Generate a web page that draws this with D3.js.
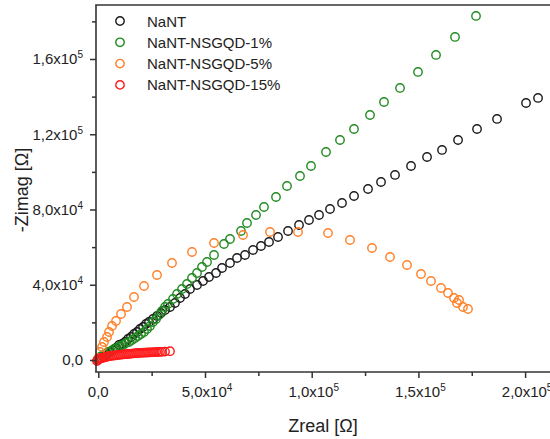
<!DOCTYPE html>
<html>
<head>
<meta charset="utf-8">
<script src="https://cdn.jsdelivr.net/npm/d3@7"></script>
<style>
  body { margin: 0; background: #fff; }
  svg { display: block; font-family: "Liberation Sans", Arial, sans-serif; }
</style>
</head>
<body>
<div id="chart"></div>
<script>
// series names, in legend order
const seriesNames = ['NaNT', 'NaNT-NSGQD-1%', 'NaNT-NSGQD-5%', 'NaNT-NSGQD-15%'];
const seriesColors = ['#1a1a1a', '#1f8a1f', '#ff7f27', '#ff1a1a'];

// NaNT  (Zreal, -Zimag) in ohm
const nantZre = [330, 1270, 2670, 4080, 5480, 6890, 8290, 9700, 11110, 12510, 13920, 15320, 16730, 18130, 19540,
  20950, 22350, 23760, 25630, 27510, 29380, 31260, 33600, 35940, 38290, 40630, 42970, 46250, 49060, 51880, 55160,
  57970, 61720, 65000, 68750, 72500, 76240, 79990, 84210, 88900, 94050, 98740, 103430, 108580, 114200, 119830,
  126390, 132480, 139040, 146540, 154040, 161070, 168570, 177470, 186840, 200430, 206050];
const nantZim = [530, 1060, 2130, 3190, 4250, 5320, 6380, 7970, 8510, 9570, 11160, 12220, 13820, 14880, 16480,
  17540, 19140, 20200, 21800, 23390, 24990, 26580, 28170, 30300, 32960, 35090, 37740, 39870, 42000, 44120, 46250,
  48910, 51570, 54220, 55820, 58480, 60600, 62730, 65390, 68580, 71770, 74420, 77080, 80270, 83460, 87180,
  90900, 94620, 98350, 103130, 107910, 111640, 116950, 122800, 128120, 136620, 139280];

// NaNT-NSGQD-1%
const g1Zre = [800, 1730, 3140, 4550, 5950, 7360, 8760, 10170, 11570, 12980, 14390, 15790, 17200, 18600, 20010,
  21420, 22820, 24230, 25630, 27040, 28440, 29850, 31260, 32660, 35000, 36880, 39220, 41560, 43910, 46250, 48590,
  50940, 54220, 58900, 61710, 66870, 69680, 73900, 77650, 83270, 88420, 94520, 99670, 106700, 113260, 119820,
  127320, 133880, 141380, 149810, 158250, 167150, 176990];
const g1Zim = [1590, 2130, 3190, 4250, 4780, 5850, 6380, 7440, 7970, 9040, 9570, 10630, 11700, 12760, 13820,
  14880, 16480, 18070, 20200, 21800, 23920, 26050, 28170, 29770, 32430, 35090, 37740, 40400, 43590, 46250, 49440,
  52100, 55820, 61670, 64320, 68580, 72830, 77080, 81330, 86650, 92500, 97810, 103130, 110570, 116950, 122800,
  130240, 137150, 144600, 153100, 162140, 171710, 182870];

// NaNT-NSGQD-5%
const g5Zre = [90, 800, 1730, 2670, 4080, 5020, 6420, 8290, 10640, 13450, 16730, 21420, 27510, 34540, 43910,
  54220, 67810, 80460, 93580, 107640, 117950, 128250, 136690, 144660, 151220, 155900, 160590, 163870, 166680,
  169030, 168090, 170900, 173240];
const g5Zim = [1060, 4250, 6910, 9570, 12230, 14880, 18070, 20730, 24450, 28170, 33490, 39340, 45190, 51570, 57410,
  62200, 66450, 68040, 68040, 67510, 63790, 59540, 54750, 50500, 45720, 42000, 38280, 35620, 32960,
  31900, 30300, 28170, 27110];

// NaNT-NSGQD-15%
const g15Zre = [-610, -370, -140, 330, 800, 1270, 1730, 2670, 3610, 4550, 5480, 6420, 7360, 8290, 9230, 10170,
  11110, 12050, 12980, 13920, 14850, 15790, 16730, 17670, 18600, 19540, 20480, 21420, 22350, 23290, 24230, 25160,
  26100, 27040, 27980, 28910, 29850, 31260, 33600];
const g15Zim = [-530, 0, 300, 530, 800, 930, 1060, 1330, 1590, 1860, 2130, 2230, 2390, 2500, 2660, 2760,
  2870, 2980, 3080, 3190, 3300, 3400, 3510, 3610, 3720, 3770, 3830, 3880, 3940, 3990, 4040, 4090,
  4150, 4200, 4250, 4300, 4360, 4460, 4680];

// axis ticks and labels (mantissa, exponent)
const xMajor = [0, 50000, 100000, 150000, 200000];
const xMinor = [25000, 75000, 125000, 175000];
const xTickLabels = [['0,0', ''], ['5,0x10', '4'], ['1,0x10', '5'], ['1,5x10', '5'], ['2,0x10', '5']];
const yMajor = [0, 40000, 80000, 120000, 160000];
const yMinor = [20000, 60000, 100000, 140000, 180000];
const yTickLabels = [['0,0', ''], ['4,0x10', '4'], ['8,0x10', '4'], ['1,2x10', '5'], ['1,6x10', '5']];

const width = 550, height = 439;
const margin = {top: 5, left: 96, bottom: 372, right: 560};

const svg = d3.select('#chart').append('svg')
  .attr('width', width)
  .attr('height', height);

const x = d3.scaleLinear().domain([-1078, 216350]).range([margin.left, margin.right]);
const y = d3.scaleLinear().domain([-6380, 188700]).range([margin.bottom, margin.top]);

const series = [
  {name: seriesNames[0], xs: nantZre, ys: nantZim},
  {name: seriesNames[1], xs: g1Zre, ys: g1Zim},
  {name: seriesNames[2], xs: g5Zre, ys: g5Zim},
  {name: seriesNames[3], xs: g15Zre, ys: g15Zim}
];

// points
series.forEach((s, i) => {
  svg.append('g')
    .selectAll('circle')
    .data(s.xs.map((v, k) => [v, s.ys[k]]))
    .enter().append('circle')
    .attr('cx', d => x(d[0]))
    .attr('cy', d => y(d[1]))
    .attr('r', 4.2)
    .attr('fill', 'none')
    .attr('stroke', seriesColors[i])
    .attr('stroke-width', 1.4);
});

// axes
const axisColor = '#333';
const xAxis = svg.append('g').attr('transform', 'translate(0,' + margin.bottom + ')')
  .call(d3.axisBottom(x).tickValues(xMajor).tickSize(6).tickFormat(''));
const xAxisMinor = svg.append('g').attr('transform', 'translate(0,' + margin.bottom + ')')
  .call(d3.axisBottom(x).tickValues(xMinor).tickSize(4).tickFormat(''));
const yAxis = svg.append('g').attr('transform', 'translate(' + margin.left + ',0)')
  .call(d3.axisLeft(y).tickValues(yMajor).tickSize(6).tickFormat(''));
const yAxisMinor = svg.append('g').attr('transform', 'translate(' + margin.left + ',0)')
  .call(d3.axisLeft(y).tickValues(yMinor).tickSize(4).tickFormat(''));

[xAxis, xAxisMinor, yAxis, yAxisMinor].forEach(a => {
  a.select('.domain').remove();
  a.selectAll('line').attr('stroke', axisColor).attr('stroke-width', 1.5);
});

svg.append('line')
  .attr('x1', margin.left).attr('x2', margin.left)
  .attr('y1', margin.top).attr('y2', margin.bottom)
  .attr('stroke', axisColor).attr('stroke-width', 1.6);
svg.append('line')
  .attr('x1', margin.left - 0.8).attr('x2', width)
  .attr('y1', margin.bottom).attr('y2', margin.bottom)
  .attr('stroke', axisColor).attr('stroke-width', 1.6);
svg.append('line')
  .attr('x1', margin.left - 0.8).attr('x2', width)
  .attr('y1', margin.top).attr('y2', margin.top)
  .attr('stroke', axisColor).attr('stroke-width', 1.6);

// tick labels with superscripts
function tickLabel(g, lbl) {
  g.append('tspan').text(lbl[0]);
  if (lbl[1]) {
    g.append('tspan').attr('dy', -6).attr('font-size', 10).text(lbl[1]);
  }
}

xMajor.forEach((v, i) => {
  const t = svg.append('text')
    .attr('x', x(v) + (xTickLabels[i][1] ? 2 : 0))
    .attr('y', 397)
    .attr('text-anchor', 'middle')
    .attr('font-size', 15)
    .attr('fill', '#222');
  tickLabel(t, xTickLabels[i]);
});

yMajor.forEach((v, i) => {
  const t = svg.append('text')
    .attr('x', 83)
    .attr('y', y(v) + 5.5)
    .attr('text-anchor', 'end')
    .attr('font-size', 15)
    .attr('fill', '#222');
  tickLabel(t, yTickLabels[i]);
});

// axis titles
svg.append('text')
  .attr('x', 323)
  .attr('y', 432)
  .attr('text-anchor', 'middle')
  .attr('font-size', 18)
  .attr('fill', '#222')
  .text('Zreal [Ω]');

svg.append('text')
  .attr('transform', 'translate(28,190) rotate(-90)')
  .attr('text-anchor', 'middle')
  .attr('font-size', 18)
  .attr('fill', '#222')
  .text('-Zimag [Ω]');

// legend
const legend = svg.append('g');
const item = legend.selectAll('g')
  .data(seriesNames)
  .enter().append('g')
  .attr('transform', (d, i) => 'translate(120,' + (21 + i * 21.3) + ')');

item.append('circle')
  .attr('r', 4.2)
  .attr('fill', 'none')
  .attr('stroke', (d, i) => seriesColors[i])
  .attr('stroke-width', 1.4);

item.append('text')
  .attr('x', 27)
  .attr('y', 5.5)
  .attr('font-size', 15)
  .attr('fill', '#222')
  .text(d => d);
</script>
</body>
</html>
